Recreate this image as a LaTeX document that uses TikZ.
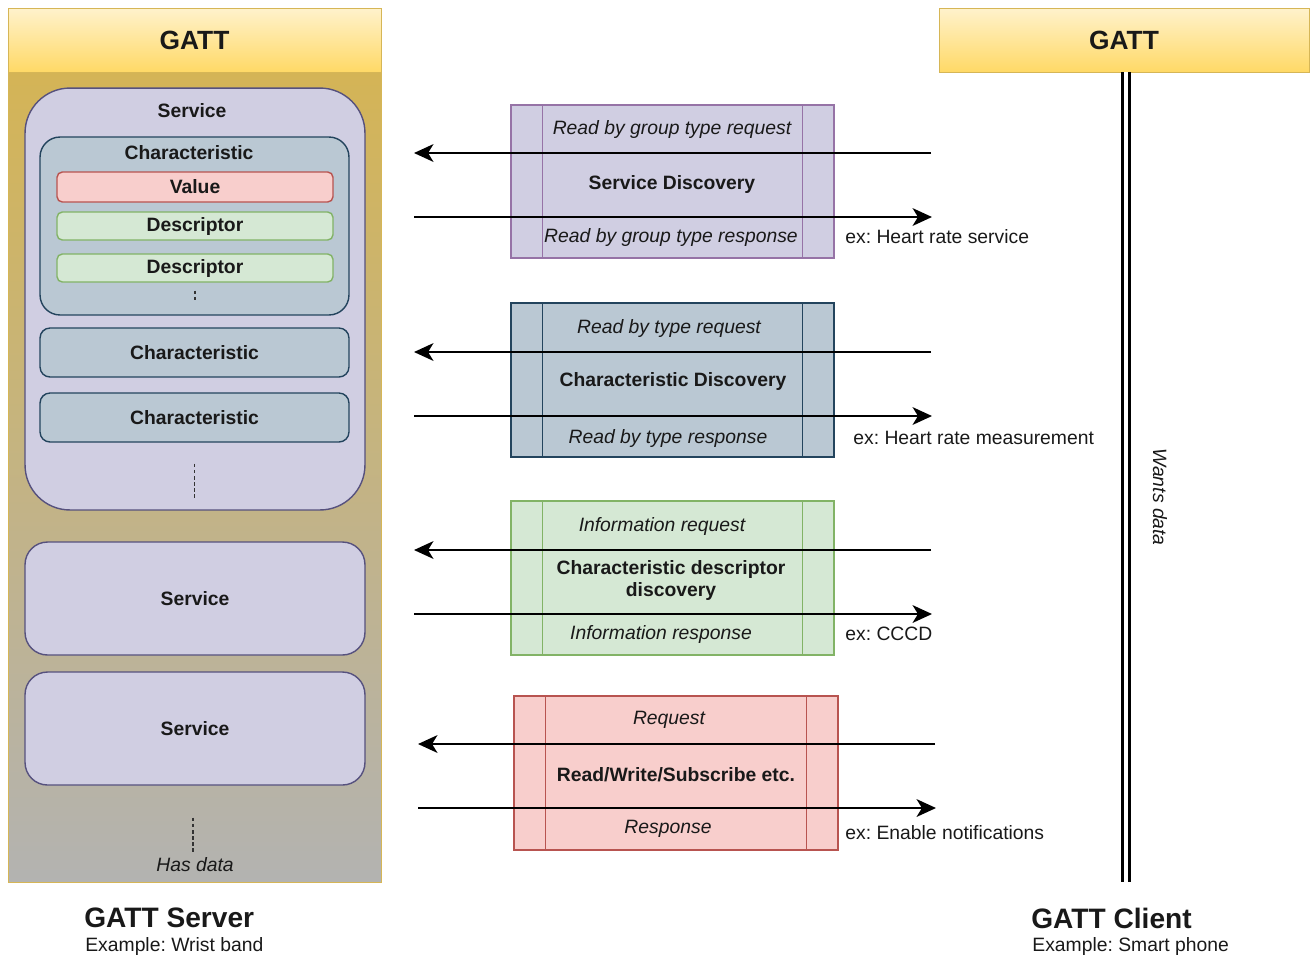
\documentclass[tikz,border=0pt]{standalone}
\usepackage{fontspec}
\setmainfont{Liberation Sans}
\usepackage{xcolor}
\usepackage{tikz}
\usetikzlibrary{arrows.meta, positioning, calc}
\frenchspacing
\definecolor{hdrtop}{HTML}{FFF2CC}
\definecolor{hdrbot}{HTML}{FFD966}
\definecolor{golddraw}{HTML}{D6B656}
\definecolor{bodytop}{HTML}{D4B456}
\definecolor{bodybot}{HTML}{B3B3B1}
\definecolor{svcfill}{HTML}{D0CEE2}
\definecolor{svcdraw}{HTML}{56517E}
\definecolor{chrfill}{HTML}{BAC8D3}
\definecolor{chrdraw}{HTML}{23445D}
\definecolor{valfill}{HTML}{F8CECC}
\definecolor{valdraw}{HTML}{B85450}
\definecolor{dscfill}{HTML}{D5E8D4}
\definecolor{dscdraw}{HTML}{82B366}
\definecolor{purpdraw}{HTML}{9673A6}

\begin{document}
\begin{tikzpicture}[x=0.02cm, y=-0.02cm,
  every node/.style={inner sep=0pt, text=black!90},
  gatthdr/.style={
    rectangle, draw=golddraw, top color=hdrtop, bottom color=hdrbot,
    minimum height=1.28cm, font=\fontsize{15}{18}\selectfont\bfseries},
  svcbox/.style={
    rectangle, draw=svcdraw, fill=svcfill, line width=0.8pt,
    minimum width=6.8cm},
  chrbox/.style={
    rectangle, draw=chrdraw, fill=chrfill, line width=0.8pt,
    minimum width=6.18cm, font=\fontsize{11}{13}\selectfont\bfseries},
  attrbox/.style={
    rectangle, rounded corners=3pt, line width=0.8pt,
    minimum width=5.52cm, font=\fontsize{11}{13}\selectfont\bfseries},
  msgbox/.style={
    rectangle, line width=0.8pt, minimum width=6.46cm, minimum height=3.08cm},
  bold/.style={font=\fontsize{11}{13}\selectfont\bfseries, align=center},
  ital/.style={font=\fontsize{11}{13}\selectfont\itshape},
  plain/.style={font=\fontsize{11}{13}\selectfont},
  big/.style={font=\fontsize{16}{19}\selectfont\bfseries},
  dots/.style={dashed, dash pattern=on 2pt off 1.5pt, line width=0.7pt, black!80},
  msg/.style={-{Stealth[length=11pt, width=10pt, inset=3pt]}, line width=1.6pt},
]
  \useasboundingbox (0,0) rectangle (1310,958);

  % GATT server
  \node[rectangle, draw=golddraw, top color=bodytop, bottom color=bodybot,
    minimum width=7.46cm, minimum height=16.2cm] (srvbody) at (194.5,477) {};
  \node[gatthdr, minimum width=7.46cm] (srvhdr) at (194.5,40) {GATT};

  \node[svcbox, rounded corners=0.9cm, minimum height=8.44cm] (svc1) at (195,299) {};
  \node[bold] (svc1lbl) at (192,111) {Service};
  \node[chrbox, rounded corners=0.4cm, minimum height=3.56cm] (chr1) at (194.5,226) {};
  \node[bold] (chr1lbl) at (189,153) {Characteristic};
  \node[attrbox, draw=valdraw, fill=valfill, minimum height=0.6cm] (val) at (195,187) {Value};
  \node[attrbox, draw=dscdraw, fill=dscfill, minimum height=0.56cm] (dsc1) at (195,226) {Descriptor};
  \node[attrbox, draw=dscdraw, fill=dscfill, minimum height=0.56cm] (dsc2) at (195,268) {Descriptor};
  \draw[dots] ($(dsc2.south)+(0,8)$) -- ++(0,12);
  \node[chrbox, rounded corners=0.2cm, minimum height=0.98cm] (chr2) at (194.5,352.5) {Characteristic};
  \node[chrbox, rounded corners=0.2cm, minimum height=0.98cm] (chr3) at (194.5,417.5) {Characteristic};
  \draw[dots] ($(chr3.south)+(0,21)$) -- ++(0,35);

  \node[svcbox, rounded corners=0.45cm, minimum height=2.26cm, font=\fontsize{11}{13}\selectfont\bfseries]
    (svc2) at (195,598.5) {Service};
  \node[svcbox, rounded corners=0.45cm, minimum height=2.26cm, font=\fontsize{11}{13}\selectfont\bfseries]
    (svc3) at (195,728.5) {Service};
  \draw[dots] ($(svc3.south)+(-2,32)$) -- ++(0,35);
  \node[ital] (hasdata) at (195,865) {Has data};

  \node[big, anchor=west] (srvname) at (84,918) {GATT Server};
  \node[plain, anchor=west] (srvex) at (85,946) {Example: Wrist band};

  % GATT client
  \node[gatthdr, minimum width=7.4cm] (clihdr) at (1124,40) {GATT};
  \coordinate (clitop) at (1126,72);
  \coordinate (clibot) at (1126,882);
  \draw[line width=1.6pt, double, double distance=2.4pt] (clitop) -- (clibot);
  \node[ital, rotate=-90] (wants) at (1160,497) {Wants data};
  \node[big, anchor=west] (cliname) at (1031,918) {GATT Client};
  \node[plain, anchor=west] (cliex) at (1032,946) {Example: Smart phone};

  % Service discovery
  \node[msgbox, draw=purpdraw, fill=svcfill, minimum height=3.06cm] (sd) at (672.5,181.5) {};
  \draw[purpdraw, line width=0.8pt] ($(sd.north west)+(32,0)$) -- ($(sd.south west)+(32,0)$);
  \draw[purpdraw, line width=0.8pt] ($(sd.north east)+(-32,0)$) -- ($(sd.south east)+(-32,0)$);
  \node[ital] (sdreq) at (672,129) {Read by group type request};
  \node[bold] (sdtitle) at (672,184) {Service Discovery};
  \node[ital] (sdrsp) at (671,237) {Read by group type response};
  \node[plain, anchor=west] (sdex) at (845,237) {ex: Heart rate service};

  % Characteristic discovery
  \node[msgbox, draw=chrdraw, fill=chrfill] (cd) at (672.5,380) {};
  \draw[chrdraw, line width=0.8pt] ($(cd.north west)+(32,0)$) -- ($(cd.south west)+(32,0)$);
  \draw[chrdraw, line width=0.8pt] ($(cd.north east)+(-32,0)$) -- ($(cd.south east)+(-32,0)$);
  \node[ital] (cdreq) at (669,328) {Read by type request};
  \node[bold] (cdtitle) at (673,381) {Characteristic Discovery};
  \node[ital] (cdrsp) at (668,438) {Read by type response};
  \node[plain, anchor=west] (cdex) at (853,438) {ex: Heart rate measurement};

  % Descriptor discovery
  \node[msgbox, draw=dscdraw, fill=dscfill] (dd) at (672.5,578) {};
  \draw[dscdraw, line width=0.8pt] ($(dd.north west)+(32,0)$) -- ($(dd.south west)+(32,0)$);
  \draw[dscdraw, line width=0.8pt] ($(dd.north east)+(-32,0)$) -- ($(dd.south east)+(-32,0)$);
  \node[ital] (ddreq) at (662,526) {Information request};
  \node[bold] (ddtitle) at (671,580.5) {Characteristic descriptor\\discovery};
  \node[ital] (ddrsp) at (661,634) {Information response};
  \node[plain, anchor=west] (ddex) at (845,634) {ex: CCCD};

  % Read / write
  \node[msgbox, draw=valdraw, fill=valfill, minimum width=6.48cm] (rw) at (676,773) {};
  \draw[valdraw, line width=0.8pt] ($(rw.north west)+(32,0)$) -- ($(rw.south west)+(32,0)$);
  \draw[valdraw, line width=0.8pt] ($(rw.north east)+(-32,0)$) -- ($(rw.south east)+(-32,0)$);
  \node[ital] (rwreq) at (669,720) {Request};
  \node[bold] (rwtitle) at (676,775) {Read/Write/Subscribe etc.};
  \node[ital] (rwrsp) at (668,829) {Response};
  \node[plain, anchor=west] (rwex) at (845,833) {ex: Enable notifications};

  % Messages
  \coordinate (sdl1) at (414,153);  \coordinate (sdr1) at (931,153);
  \coordinate (sdl2) at (414,217);  \coordinate (sdr2) at (932,217);
  \coordinate (cdl1) at (414,352);  \coordinate (cdr1) at (931,352);
  \coordinate (cdl2) at (414,416);  \coordinate (cdr2) at (932,416);
  \coordinate (ddl1) at (414,550);  \coordinate (ddr1) at (931,550);
  \coordinate (ddl2) at (414,614);  \coordinate (ddr2) at (932,614);
  \coordinate (rwl1) at (418,744);  \coordinate (rwr1) at (935,744);
  \coordinate (rwl2) at (418,808);  \coordinate (rwr2) at (936,808);

  \draw[msg] (sdr1) -- (sdl1);
  \draw[msg] (sdl2) -- (sdr2);
  \draw[msg] (cdr1) -- (cdl1);
  \draw[msg] (cdl2) -- (cdr2);
  \draw[msg] (ddr1) -- (ddl1);
  \draw[msg] (ddl2) -- (ddr2);
  \draw[msg] (rwr1) -- (rwl1);
  \draw[msg] (rwl2) -- (rwr2);
\end{tikzpicture}
\end{document}
